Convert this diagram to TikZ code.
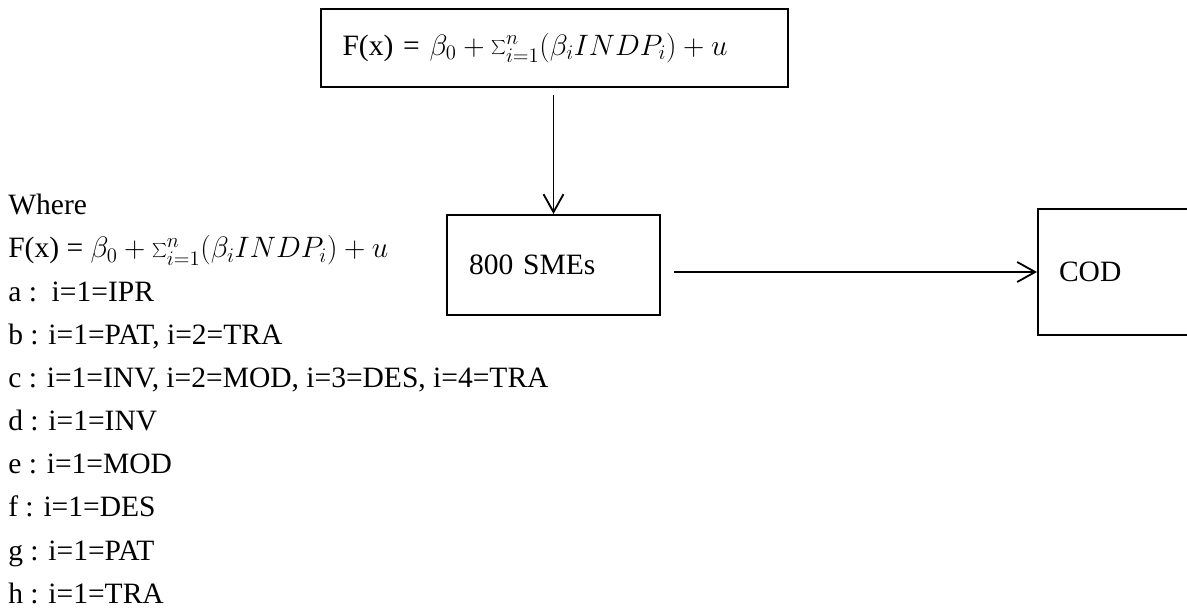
\RequirePackage{fix-cm}
\documentclass[tikz,border=0pt]{standalone}
\usepackage{fontspec}
\setmainfont{Liberation Serif}
\usetikzlibrary{arrows.meta,positioning}

\begin{document}
\begin{tikzpicture}[
  every node/.style={font=\fontsize{21}{30.7}\selectfont},
  eqbox/.style={draw,line width=1.6pt,minimum width=11.675cm,minimum height=1.95cm,
                text width=10.6cm,align=left,inner xsep=0.5cm},
  smebox/.style={draw,line width=1.4pt,minimum width=5.325cm,minimum height=2.5cm,
                 text width=4.225cm,align=left,inner xsep=0.55cm},
  codbox/.style={draw,line width=1.4pt,minimum width=8cm,minimum height=3.15cm,
                 text width=6.95cm,align=left,inner xsep=0.525cm},
  arr/.style={-{Straight Barb[length=0.45cm,width=0.5cm]},line width=1.3pt},
]
  \clip (0,0) rectangle (29.675,15.2);

  % Model equation
  \node[eqbox] (eq) at (13.8625,14.0)
    {F(x) = $\beta_0+\sum_{i=1}^{n}(\beta_i INDP_i)+u$};

  % Sample
  \node[smebox] (sme) at (13.8375,8.575) {800 SMEs};

  % Outcome
  \node[codbox] (cod) at (29.95,8.4) {COD};

  % Arrows
  \draw[arr,shorten <=0.175cm] (sme.north |- eq.south) -- (sme.north);
  \draw[arr,shorten <=0.325cm] (sme.east |- cod.west) -- (cod.west);

  % Legend of the models
  \node[anchor=north west,inner sep=0pt,align=left] (where) at (0.2,10.35) {%
    Where\\
    F(x) = $\beta_0+\sum_{i=1}^{n}(\beta_i INDP_i)+u$\\
    a :~~i=1=IPR\\
    b : i=1=PAT, i=2=TRA\\
    c : i=1=INV, i=2=MOD, i=3=DES, i=4=TRA\\
    d : i=1=INV\\
    e : i=1=MOD\\
    f : i=1=DES\\
    g : i=1=PAT\\
    h : i=1=TRA
  };
\end{tikzpicture}
\end{document}
